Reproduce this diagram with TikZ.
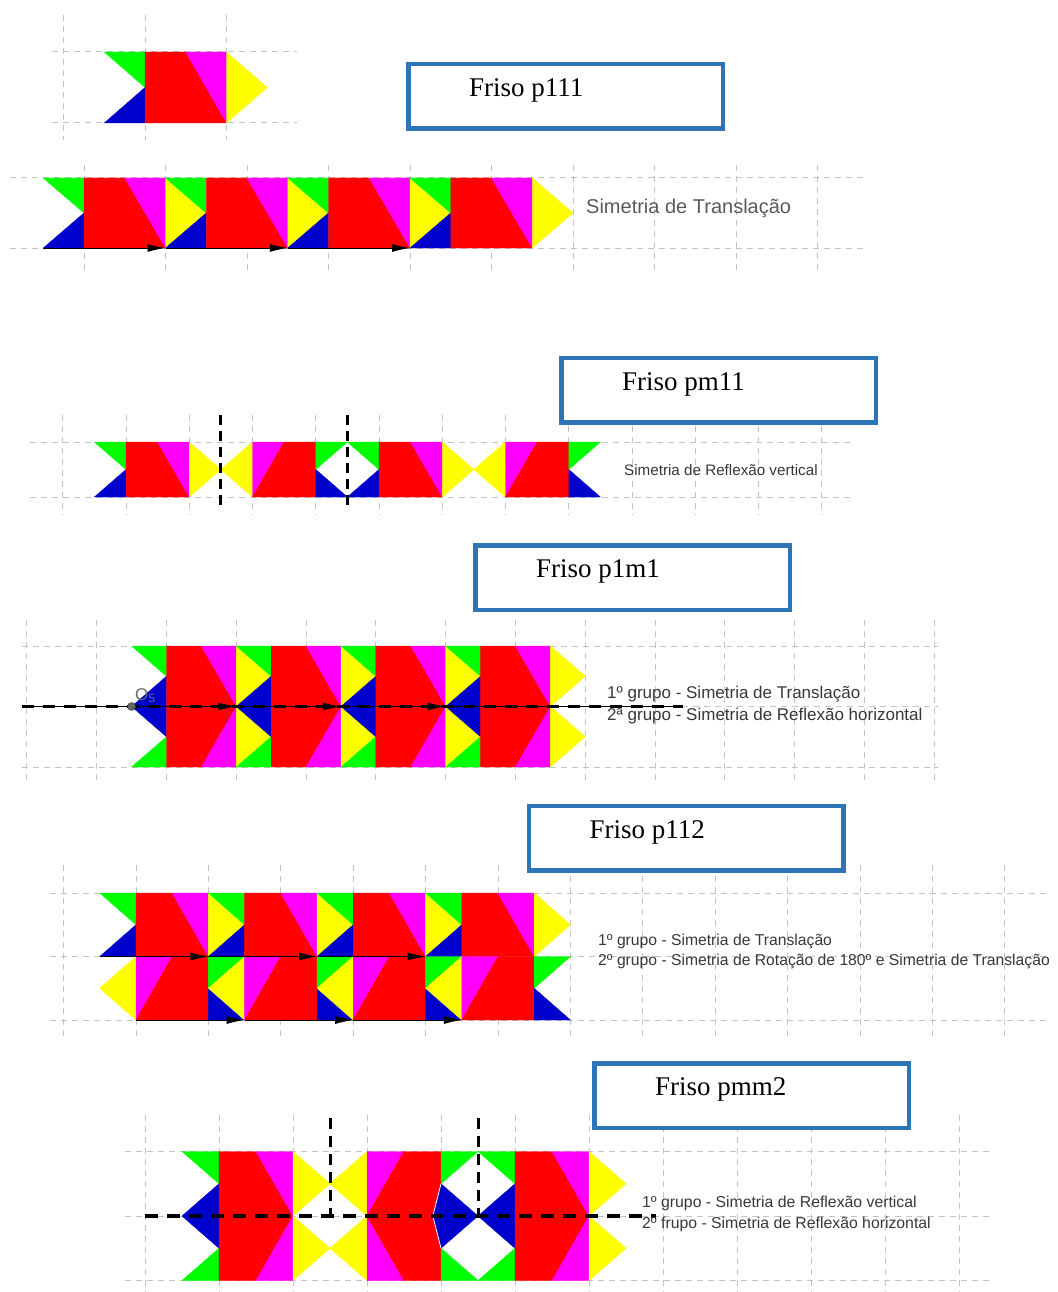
\documentclass[tikz,border=0pt]{standalone}
\usepackage{fontspec}
\setmainfont{Liberation Serif}
\setsansfont{Liberation Sans}
\usetikzlibrary{positioning}
\usetikzlibrary{arrows.meta}
\definecolor{fgreen}{RGB}{0,255,0}
\definecolor{fblue}{RGB}{0,0,204}
\definecolor{fred}{RGB}{255,0,0}
\definecolor{fmagenta}{RGB}{255,0,255}
\definecolor{fyellow}{RGB}{255,255,0}
\definecolor{boxblue}{RGB}{46,117,182}
\definecolor{gridgray}{RGB}{195,195,195}
\definecolor{geotext}{RGB}{55,55,55}
\newcommand{\titlefont}{\fontsize{27}{31}\selectfont}
% basic tile: red block starts at x=#1, row top at y=#2 (one grid cell)
\newcommand{\motif}[2]{%
    \path[piece=fgreen] (#1-.5,#2) -- (#1,#2) -- (#1,#2+.5) -- cycle;
    \path[piece=fblue] (#1-.5,#2+1) -- (#1,#2+1) -- (#1,#2+.5) -- cycle;
    \path[piece=fred] (#1,#2) -- (#1+.5,#2) -- (#1+1,#2+1) -- (#1,#2+1) -- cycle;
    \path[piece=fmagenta] (#1+.5,#2) -- (#1+1,#2) -- (#1+1,#2+1) -- cycle;
    \path[piece=fyellow] (#1+1,#2) -- (#1+1.5,#2+.5) -- (#1+1,#2+1) -- cycle;
}
% same tile turned left to right
\newcommand{\motifmirror}[2]{%
    \path[piece=fyellow] (#1,#2) -- (#1-.5,#2+.5) -- (#1,#2+1) -- cycle;
    \path[piece=fmagenta] (#1,#2) -- (#1+.5,#2) -- (#1,#2+1) -- cycle;
    \path[piece=fred] (#1+.5,#2) -- (#1+1,#2) -- (#1+1,#2+1) -- (#1,#2+1) -- cycle;
    \path[piece=fgreen] (#1+1,#2) -- (#1+1.5,#2) -- (#1+1,#2+.5) -- cycle;
    \path[piece=fblue] (#1+1,#2+.5) -- (#1+1,#2+1) -- (#1+1.5,#2+1) -- cycle;
}
\tikzset{
    piece/.style={fill=#1, draw=#1, line width=.4pt, line join=round},
    gridline/.style={draw=gridgray, line width=1pt, dash pattern=on 6pt off 5pt},
    titlebox/.style={draw=boxblue, fill=white, line width=4.5pt, minimum width=314.5pt, minimum height=64.5pt},
    titletext/.style={font=\titlefont, inner sep=0pt, yshift=6pt},
    geocaption/.style={text=geotext, anchor=west, align=left, inner sep=0pt},
    mirrorline/.style={line width=3pt, dash pattern=on 10pt off 6pt},
    transl/.style={-{Latex[length=18pt,width=8pt]}, line width=1pt},
    geopoint/.style={circle, fill=black!60, draw=black!80, inner sep=0pt, minimum size=8pt},
}

\begin{document}
\begin{tikzpicture}[x=1pt, y=-1pt]
    \useasboundingbox (0,0) rectangle (1057,1292);

    % p111: one tile
    \begin{scope}[shift={(145,52)}, x=81.5pt, y=-71pt]
        \foreach \i in {-1,0,1} \draw[gridline] (\i,-0.52) -- (\i,1.24);
        \foreach \j in {0,1} \draw[gridline] (-1.14,\j) -- (1.87,\j);
        \motif{0}{0}
    \end{scope}
    \node[titlebox] (boxp111) at (565.5,96.5) {};
    \node[titletext, right=63pt of boxp111.west] (p111) {Friso p111};

    % translation strip
    \begin{scope}[shift={(84,178)}, x=81.5pt, y=-70pt]
        \foreach \i in {0,...,9} \draw[gridline] (\i,-0.19) -- (\i,1.34);
        \foreach \j in {0,1} \draw[gridline] (-0.91,\j) -- (9.58,\j);
        \foreach \x in {0,1.5,3,4.5} \motif{\x}{0};
        \foreach \i in {0,...,3} \coordinate (ta\i) at (-0.5+1.5*\i,1);
        \foreach \i/\j in {0/1,1/2,2/3} \draw[transl] (ta\i) -- (ta\j);
    \end{scope}
    \node[geocaption, text=black!65, font=\sffamily\fontsize{20}{22}\selectfont] (cap1) at (586,208) {Simetria de Translação};

    % pm11
    \begin{scope}[shift={(126,442)}, x=63.25pt, y=-55pt]
        \foreach \i in {-1,...,11} \draw[gridline] (\i,-0.49) -- (\i,1.33);
        \foreach \j in {0,1} \draw[gridline] (-1.52,\j) -- (11.45,\j);
        \motif{0}{0} \motifmirror{2}{0} \motif{4}{0} \motifmirror{6}{0}
        \coordinate (va1) at (1.5,-0.49); \coordinate (vb1) at (1.5,1.18);
        \coordinate (va2) at (3.5,-0.49); \coordinate (vb2) at (3.5,1.18);
        \draw[mirrorline] (va1) -- (vb1);
        \draw[mirrorline] (va2) -- (vb2);
    \end{scope}
    \node[titlebox] (boxpm11) at (718.5,390) {};
    \node[titletext, right=63pt of boxpm11.west] (pm11) {Friso pm11};
    \node[geocaption, font=\sffamily\fontsize{15.2}{18}\selectfont] (cap2) at (624,470) {Simetria de Reflexão vertical};

    % p1m1
    \node[titlebox] (boxp1m1) at (632.5,577.5) {};
    \node[titletext, right=63pt of boxp1m1.west] (p1m1) {Friso p1m1};
    \begin{scope}[shift={(166.5,646)}, x=69.8pt, y=-60.5pt]
        \foreach \i in {-2,...,11} \draw[gridline] (\i,-0.43) -- (\i,2.21);
        \foreach \j in {0,1,2} \draw[gridline] (-2.07,\j) -- (11.05,\j);
        \foreach \x in {0,1.5,3,4.5} \motif{\x}{0};
        \begin{scope}[shift={(0,2)}, yscale=-1]
            \foreach \x in {0,1.5,3,4.5} \motif{\x}{0};
        \end{scope}
        \coordinate (ha) at (-2.07,1);
        \coordinate (hb) at (7.4,1);
        \draw[line width=.8pt] (ha) -- (hb);
        \draw[mirrorline, line width=3.2pt, dash pattern=on 12pt off 9pt] (ha) -- (hb);
        \foreach \i in {0,...,3} \coordinate (tb\i) at (-0.5+1.5*\i,1);
        \foreach \i/\j in {0/1,1/2,2/3} \draw[transl] (tb\i) -- (tb\j);
        \node[geopoint, label={[font=\sffamily\fontsize{17}{19}\selectfont, text=black!60, inner sep=1pt, label distance=-1pt]above right:O\textsubscript{5}}] (O5) at (tb0) {};
    \end{scope}
    \node[geocaption, font=\sffamily\fontsize{17}{22}\selectfont] (cap3) at (607,705) {1º grupo - Simetria de Translação\\2ª grupo - Simetria de Reflexão horizontal};

    % p112
    \begin{scope}[shift={(136,893)}, x=72.4pt, y=-63.5pt]
        \foreach \i in {-1,...,12} \draw[gridline] (\i,-0.44) -- (\i,2.31);
        \foreach \j in {0,1,2} \draw[gridline] (-1.19,\j) -- (12.62,\j);
        \foreach \x in {0,1.5,3,4.5} \motif{\x}{0};
        \foreach \x in {0,1.5,3,4.5} \motifmirror{\x}{1};
        \foreach \i in {0,...,3} \coordinate (tc\i) at (-0.5+1.5*\i,1);
        \foreach \i/\j in {0/1,1/2,2/3} \draw[transl] (tc\i) -- (tc\j);
        \foreach \i in {0,...,3} \coordinate (td\i) at (1.5*\i,2);
        \foreach \i/\j in {0/1,1/2,2/3} \draw[transl] (td\i) -- (td\j);
    \end{scope}
    \node[titlebox] (boxp112) at (686,838) {};
    \node[titletext, right=63pt of boxp112.west] (p112) {Friso p112};
    \node[geocaption, font=\sffamily\fontsize{15.7}{20}\selectfont] (cap4) at (598,951) {1º grupo - Simetria de Translação\\2º grupo - Simetria de Rotação de 180º e Simetria de Translação};

    % pmm2
    \begin{scope}[shift={(219,1151.5)}, x=74pt, y=-64.5pt]
        \foreach \i in {-1,...,10} \draw[gridline] (\i,-0.56) -- (\i,2.2);
        \foreach \j in {0,1,2} \draw[gridline] (-1.27,\j) -- (10.4,\j);
        \motif{0}{0} \motifmirror{2}{0} \motif{4}{0}
        \begin{scope}[shift={(0,2)}, yscale=-1]
            \motif{0}{0} \motifmirror{2}{0} \motif{4}{0}
        \end{scope}
        \path[piece=fblue] (3,0.5) -- (2.89,1) -- (3,1.5) -- cycle;
        \draw[white, line width=.8pt] (3,0.5) -- (2.89,1) -- (3,1.5);
        \coordinate (hc) at (-1,1);
        \coordinate (hd) at (5.9,1);
        \draw[mirrorline, line width=3.4pt, dash pattern=on 13pt off 9pt] (hc) -- (hd);
        \coordinate (vc1) at (1.5,-0.52); \coordinate (vd1) at (1.5,1);
        \coordinate (vc2) at (3.5,-0.52); \coordinate (vd2) at (3.5,1);
        \draw[mirrorline, dash pattern=on 11pt off 7pt] (vc1) -- (vd1);
        \draw[mirrorline, dash pattern=on 11pt off 7pt] (vc2) -- (vd2);
    \end{scope}
    \node[titlebox] (boxpmm2) at (751.5,1095.5) {};
    \node[titletext, right=63pt of boxpmm2.west] (pmm2) {Friso pmm2};
    \node[geocaption, font=\sffamily\fontsize{15.8}{21}\selectfont] (cap5) at (642,1213.5) {1º grupo - Simetria de Reflexão vertical\\2º frupo - Simetria de Reflexão horizontal};
\end{tikzpicture}
\end{document}
